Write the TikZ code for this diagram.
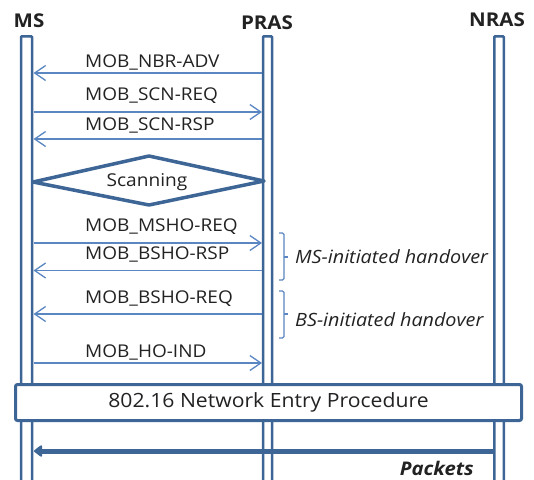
\documentclass[tikz,border=0pt]{standalone}
\usepackage{fontspec}
\setmainfont{Open Sans}[FakeStretch=1.08]
\usetikzlibrary{arrows.meta}
\definecolor{lifec}{HTML}{3D6596}
\definecolor{msgc}{HTML}{5A86C2}
\definecolor{txtc}{HTML}{222222}
\begin{document}
\begin{tikzpicture}[x=1pt,y=-1pt,
  lifeline/.style={draw=lifec,line width=2.5pt,fill=white,rounded corners=1pt},
  msg/.style={draw=msgc,line width=1.3pt,-{Straight Barb[length=11pt,width=15pt,line width=1.3pt]}},
  lbl/.style={font=\fontsize{17.6}{19}\selectfont,text=txtc,anchor=west,inner sep=0pt},
  head/.style={font=\fontsize{19}{21}\selectfont\bfseries,text=txtc,inner sep=0pt},
  note/.style={font=\fontsize{18.3}{20}\selectfont\itshape,text=txtc,anchor=west,inner sep=0pt},
  bracec/.style={draw=msgc,line width=1.2pt,rounded corners=1.5pt}]
\useasboundingbox (0,0) rectangle (534,479);
% heads
\node[head] (ms) at (29,21) {MS};
\node[head] (pras) at (267,23) {PRAS};
\node[head] (nras) at (497,20) {NRAS};
% lifelines
\draw[lifeline] (21,36.25) rectangle (32,490);
\draw[lifeline] (263,36.25) rectangle (272,490);
\draw[lifeline] (494.25,36.25) rectangle (503.75,490);
% endpoints
\coordinate (msR1) at (33.5,73);  \coordinate (prL1) at (262,73);
\coordinate (msR2) at (33.5,112); \coordinate (prL2) at (262,112);
\coordinate (msR3) at (33.5,139); \coordinate (prL3) at (262,139);
\coordinate (msR4) at (33.5,243); \coordinate (prL4) at (262,243);
\coordinate (msR5) at (33.5,270.5); \coordinate (prL5) at (262,270.5);
\coordinate (msR6) at (33.5,314); \coordinate (prL6) at (262,314);
\coordinate (msR7) at (33.5,363); \coordinate (prL7) at (262,363);
% messages
\node[lbl] (l1) at (85,62) {MOB\_NBR-ADV};
\draw[msg] (prL1) -- (msR1);
\node[lbl] (l2) at (85,96) {MOB\_SCN-REQ};
\draw[msg] (msR2) -- (prL2);
\node[lbl] (l3) at (85,125) {MOB\_SCN-RSP};
\draw[msg] (prL3) -- (msR3);
% scanning
\coordinate (dl) at (33,182); \coordinate (dt) at (149,156);
\coordinate (dr) at (264,181); \coordinate (db) at (149,205);
\draw[draw=lifec,line width=3.5pt,line join=round,fill=white] (dl) -- (dt) -- (dr) -- (db) -- cycle;
\node[font=\fontsize{17.7}{19}\selectfont,text=txtc,inner sep=0pt] (scan) at (147,182) {Scanning};
\node[lbl] (l4) at (85,227) {MOB\_MSHO-REQ};
\draw[msg] (msR4) -- (prL4);
\node[lbl] (l5) at (85,254) {MOB\_BSHO-RSP};
\draw[msg] (prL5) -- (msR5);
\node[lbl] (l6) at (85,299) {MOB\_BSHO-REQ};
\draw[msg] (prL6) -- (msR6);
\node[lbl] (l7) at (85,352) {MOB\_HO-IND};
\draw[msg] (msR7) -- (prL7);
% braces
\draw[bracec] (279,233) -- (284,233) -- (284,280) -- (279,280);
\draw[bracec] (284,257) -- (288,257);
\node[note] (msi) at (295,257) {MS-initiated handover};
\draw[bracec] (279,291) -- (284,291) -- (284,338) -- (279,338);
\draw[bracec] (284,314) -- (288,314);
\node[note] (bsi) at (295,320) {BS-initiated handover};
% network entry
\node[draw=lifec,line width=3pt,fill=white,rounded corners=2pt,minimum width=506pt,minimum height=36pt,inner sep=0pt,
  font=\fontsize{19.6}{21}\selectfont,text=txtc] (ne) at (268.5,402.5) {802.16 Network Entry Procedure};
% packets
\coordinate (nrL) at (493,451); \coordinate (msR8) at (34,451);
\draw[draw=lifec,line width=5pt,-{Triangle[length=9pt,width=13pt,round]}] (nrL) -- (msR8);
\node[font=\fontsize{18.8}{20}\selectfont\bfseries\itshape,text=txtc,anchor=east,inner sep=0pt] (pk) at (474,468) {Packets};
\end{tikzpicture}
\end{document}
